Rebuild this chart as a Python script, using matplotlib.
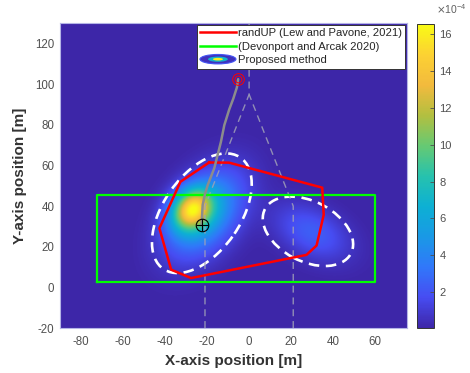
import numpy as np
import matplotlib
matplotlib.use('Agg')
import matplotlib.pyplot as plt
from matplotlib.colors import LinearSegmentedColormap
from matplotlib.patches import Ellipse
from matplotlib.lines import Line2D
from matplotlib.legend_handler import HandlerBase

plt.rcParams['font.family'] = ['Liberation Sans', 'DejaVu Sans']
plt.rcParams['axes.unicode_minus'] = False

# density field: gaussian components (centre, peak, spreads, angle)
blob_cx = [-27.5, -21.0, 30.0]
blob_cy = [38.5, 36.0, 27.0]
blob_amp = [12.0e-4, 5.8e-4, 2.4e-4]
blob_s1 = [7.5, 16.0, 13.0]
blob_s2 = [6.0, 10.0, 8.0]
blob_ang = [55, 55, -29]

# dashed confidence ellipses of the proposed method
ell_cx = [-22.5, 28.0]
ell_cy = [36.5, 27.6]
ell_w = [66.0, 46.4]
ell_h = [37.0, 29.4]
ell_ang = [57, -29]

# randUP hull
hull_x = [-19.0, -9.5, 34.8, 35.5, 32.1, 27.3, -27.6, -37.1, -42.7, -32.7, -19.0]
hull_y = [61.5, 61.4, 49.1, 35.7, 20.6, 16.0, 4.6, 8.7, 29.1, 52.0, 61.5]

# Devonport and Arcak box
box_x = [-72.5, 60.0, 60.0, -72.5, -72.5]
box_y = [2.5, 2.5, 45.5, 45.5, 2.5]

# vehicle path
traj_x = [-22.6, -22.4, -22.1, -21.0, -19.7, -16.6, -14.2, -13.4, -11.8, -9.5, -7.5, -5.8, -5.2]
traj_y = [30.5, 35.0, 40.6, 46.0, 50.4, 58.6, 68.4, 71.7, 79.9, 87.5, 93.0, 98.5, 102.5]

# lane markings
lane_lx = [-21, -21, 0, 0]
lane_ly = [-20, 40, 95, 130]
lane_rx = [21, 21, 0]
lane_ry = [-20, 40, 95]

start_pt = (-22.6, 30.5)
goal_pt = (-5.2, 102.5)

cb_ticks = [2, 4, 6, 8, 10, 12, 14, 16]

parula = LinearSegmentedColormap.from_list('parula', [
    (0.00, (0.2422, 0.1504, 0.6603)),
    (0.10, (0.2780, 0.3000, 0.9500)),
    (0.20, (0.1900, 0.4700, 0.9800)),
    (0.30, (0.1000, 0.6000, 0.9000)),
    (0.40, (0.0500, 0.6900, 0.8300)),
    (0.50, (0.1500, 0.7600, 0.6800)),
    (0.60, (0.4000, 0.7900, 0.4500)),
    (0.70, (0.7000, 0.7500, 0.2500)),
    (0.80, (0.9500, 0.7300, 0.2400)),
    (0.90, (0.9900, 0.8200, 0.2000)),
    (1.00, (0.9769, 0.9839, 0.0805)),
])

xx, yy = np.meshgrid(np.linspace(-90, 75, 500), np.linspace(-20, 130, 500))
dens = np.zeros_like(xx)
for cx, cy, a, s1, s2, ang in zip(blob_cx, blob_cy, blob_amp, blob_s1, blob_s2, blob_ang):
    t = np.deg2rad(ang)
    u = (xx - cx) * np.cos(t) + (yy - cy) * np.sin(t)
    v = -(xx - cx) * np.sin(t) + (yy - cy) * np.cos(t)
    dens += a * np.exp(-0.5 * ((u / s1) ** 2 + (v / s2) ** 2))


class HandlerBlob(HandlerBase):
    def create_artists(self, legend, orig_handle, xdescent, ydescent, width, height, fontsize, trans):
        cx = width / 2 - xdescent
        cy = height / 2 - ydescent
        arts = []
        for f, c in zip([1.0, 0.55, 0.28], [parula(0.03), parula(0.42), parula(0.97)]):
            e = Ellipse((cx, cy), width * f, height * 1.2 * f, facecolor=c,
                        edgecolor=parula(0.12) if f == 1.0 else 'none', lw=0.8, transform=trans)
            arts.append(e)
        return arts


fig = plt.figure(figsize=(4.7, 3.73), dpi=100)
ax = fig.add_axes([0.1277, 0.1206, 0.7376, 0.8169])
im = ax.imshow(dens, extent=(-90, 75, -20, 130), origin='lower', aspect='auto',
               cmap=parula, vmin=0.05e-4, vmax=16.55e-4, interpolation='bilinear')

lane_kw = dict(color='#a0a0b8', lw=1.0, ls=(0, (5, 3.5)), alpha=0.85)
ax.plot(lane_lx, lane_ly, **lane_kw)
ax.plot(lane_rx, lane_ry, **lane_kw)

ax.plot(box_x, box_y, color='#00ff00', lw=1.6)
for cx, cy, w, h, ang in zip(ell_cx, ell_cy, ell_w, ell_h, ell_ang):
    ax.add_patch(Ellipse((cx, cy), w, h, angle=ang, fill=False, edgecolor='white',
                         lw=1.9, ls=(0, (4, 2.5))))
ax.plot(hull_x, hull_y, color='#ff0000', lw=1.8)
ax.plot(traj_x, traj_y, color='#8c8c8c', lw=1.8, solid_capstyle='round')

ax.plot(*start_pt, 'o', ms=9, mfc='none', mec='black', mew=0.8)
ax.plot(*start_pt, '+', ms=9, mec='black', mew=0.8)
ax.plot(*goal_pt, 'o', ms=8.4, mfc='none', mec='#ff0000', mew=0.7)
ax.plot(*goal_pt, 'o', ms=4.8, mfc='none', mec='#ff0000', mew=0.7)

ax.set_xlim(-90, 75)
ax.set_ylim(-20, 130)
ax.set_xticks(range(-80, 61, 20))
ax.set_yticks(range(-20, 121, 20))
ax.tick_params(length=0, labelsize=8.3, colors='#505050', pad=6)
ax.tick_params(axis='y', pad=4)
for s in ax.spines.values():
    s.set_color('#b4b4e6')
    s.set_linewidth(0.8)
ax.set_xlabel('X-axis position [m]', fontsize=11, fontweight='bold', color='#333333', labelpad=4)
ax.set_ylabel('Y-axis position [m]', fontsize=11, fontweight='bold', color='#333333', labelpad=6)

handles = [Line2D([], [], color='#ff0000', lw=1.8),
           Line2D([], [], color='#00ff00', lw=1.8),
           Ellipse((0, 0), 1, 1)]
labels = ['randUP (Lew and Pavone, 2021)', '(Devonport and Arcak 2020)', 'Proposed method']
leg = ax.legend(handles, labels, loc='upper right', fontsize=8.1, handlelength=3.2,
                handletextpad=0.15, labelspacing=0.3, borderpad=0.3, borderaxespad=0.15,
                fancybox=False, framealpha=1, edgecolor='#333333',
                handler_map={Ellipse: HandlerBlob()})
leg.get_frame().set_linewidth(0.7)
for t in leg.get_texts():
    t.set_color('#262626')

cax = fig.add_axes([0.8866, 0.1206, 0.0368, 0.815])
cbar = fig.colorbar(im, cax=cax)
cbar.set_ticks([v * 1e-4 for v in cb_ticks])
cbar.set_ticklabels([str(v) for v in cb_ticks])
cax.tick_params(direction='in', length=3, width=0.6, labelsize=8, colors='#505050', pad=4)
cbar.outline.set_linewidth(0.7)
cbar.outline.set_edgecolor('#333333')
fig.text(0.928, 0.963, r'$\times\mathregular{10^{-4}}$', fontsize=7.5, color='#606060')

plt.savefig('out.png', dpi=100)
